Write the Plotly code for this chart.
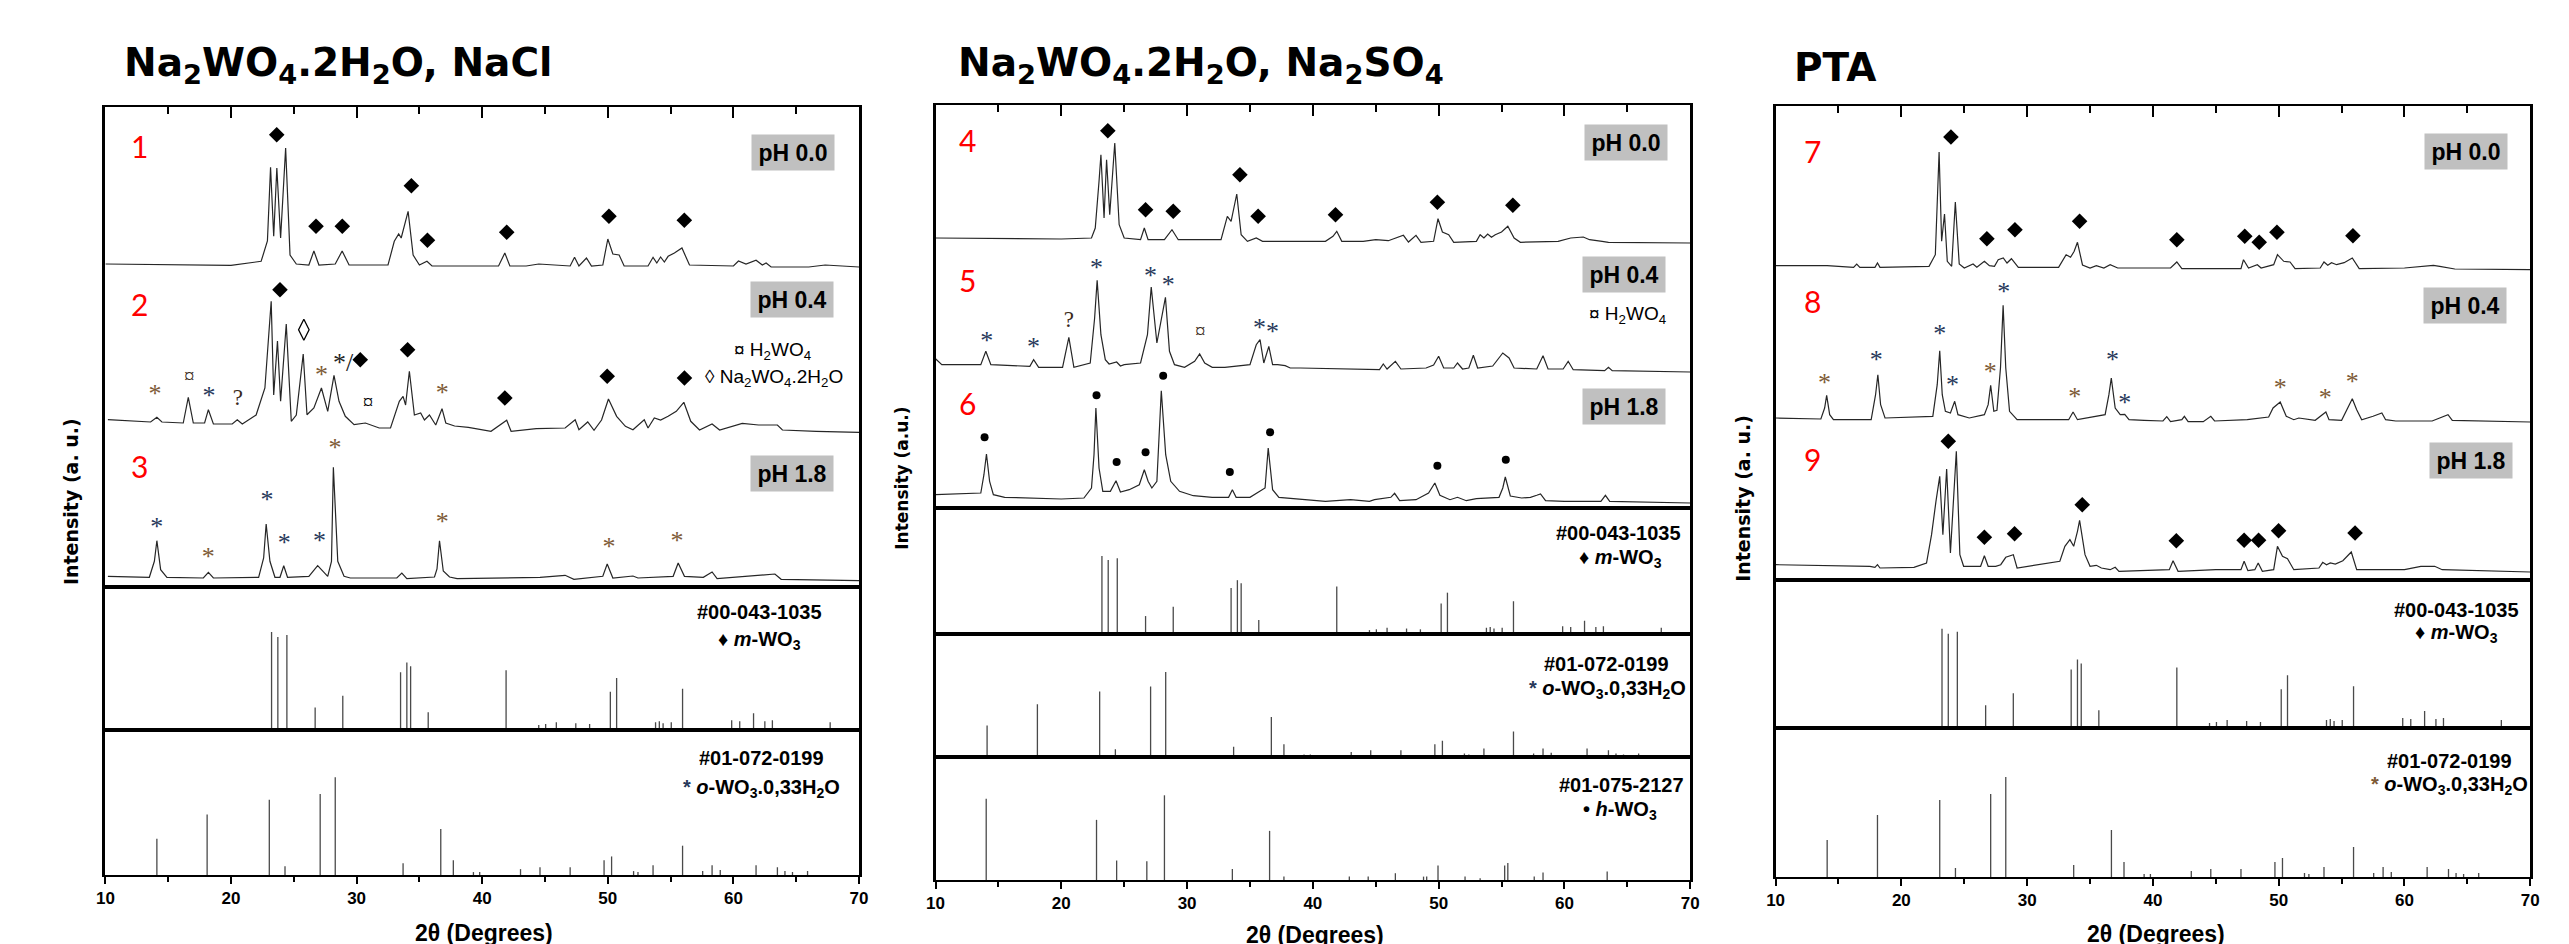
import plotly.graph_objects as go

W, H = 2569, 944

# ---------------- DATA ----------------
# XRD patterns: (2theta, intensity above the pattern's own baseline, a.u.)
nacl_ph00 = [(10.0,4),(20.0,2.7),(22.4,6.7),(22.9,27),(23.15,100.7),(23.4,31.7),(23.65,100),(23.95,30),(24.35,120),(24.7,13),
             (25.2,4),(26.2,3),(26.6,17),(27.0,3),(28.3,4),(28.85,17),(29.4,3),(32.5,3),(33.0,26.7),(33.35,34),
             (33.55,30),(34.1,56.7),(34.5,13),(35.0,3),(35.6,6.7),(36.0,2),(41.3,2),(41.8,15),(42.2,2),(43.5,2),
             (44.5,4),(45.5,3),(46.5,2),(47.0,2),(47.35,10.7),(47.7,2),(48.3,10),(48.7,2),(49.6,3),(50.0,29),
             (50.4,14),(50.9,13),(51.3,2),(53.2,2),(53.6,10.7),(53.9,5),(54.2,11),(54.5,6),(54.8,11.7),(55.3,15),
             (55.9,20),(56.5,3),(60.0,2),(60.4,7),(61.0,4),(61.8,7.7),(62.3,3),(62.6,5),(63.0,1),(66.0,1),(67.3,3),(70.0,1)]
nacl_ph04 = [(10.2,13.3),(13.6,11),(14.1,15.7),(14.5,11),(16.2,10),(16.6,35.7),(17.0,10),(17.9,10),(18.2,23.3),(18.6,9),
             (20.1,9),(20.5,13.3),(20.9,9),(22.0,18),(22.7,45),(23.2,131.7),(23.4,38),(23.7,92),(23.95,31.7),(24.4,109),
             (24.8,11.7),(25.2,18),(25.75,79),(26.05,18.3),(26.6,25),(27.2,45),(27.7,21.7),(28.2,57.7),(28.6,31.7),(29.1,16.7),
             (29.8,8.3),(30.7,10),(31.8,5),(32.7,5),(33.4,31.7),(33.7,36.7),(33.9,28),(34.2,61.7),(34.6,18),(35.1,20),
             (35.4,13),(35.8,18),(36.3,8),(36.8,24.3),(37.1,10),(37.8,7),(38.9,5.7),(40.7,1.7),(41.95,12.7),(42.3,1.7),
             (44.3,4.3),(46.6,5),(47.4,13.3),(47.7,3.3),(48.4,11),(48.9,2.7),(49.5,13),(50.05,34),(50.7,16.7),(51.4,6.7),
             (52.0,3.3),(52.9,13.3),(53.2,5),(53.7,15),(54.2,13),(54.8,16.7),(55.45,21.7),(56.05,30.7),(56.6,11.7),(57.3,3),
             (58.3,9),(58.9,3),(60.7,9.7),(62.0,8),(63.5,8),(63.9,3),(66.6,1.7),(70.0,0.7)]
nacl_ph18 = [(10.2,4.7),(13.5,3.7),(13.9,19.7),(14.1,40.3),(14.4,11.3),(14.9,3.7),(17.8,3),(18.2,8.7),(18.6,3),(22.2,3.7),
             (22.6,23),(22.8,57),(23.1,19.7),(23.5,3.7),(23.9,3.7),(24.2,15.3),(24.5,3.7),(26.2,4.7),(26.9,15.3),(27.3,9.7),
             (27.7,4.7),(28.0,19.7),(28.15,113.7),(28.5,19.7),(29.0,4.7),(29.5,3),(33.2,3),(33.6,8),(34.0,2.3),(36.2,4),
             (36.4,12),(36.6,40.3),(36.9,10),(37.4,4),(38.0,2.3),(44.6,3.7),(46.6,5.7),(47.3,1.7),(49.6,4.7),(49.95,17),
             (50.4,3),(52.0,5),(52.4,3),(55.2,4.7),(55.6,18),(56.1,4.7),(57.6,3.7),(58.3,9),(58.7,2.3),(63.3,7),(63.8,1.7),(70.0,0.3)]

so4_ph00 = [(10,6),(20,5),(22.4,6),(22.7,16),(23.0,62.7),(23.15,89.3),(23.4,26),(23.6,84.3),(23.85,29.3),(24.25,101),
            (24.6,19.3),(25.0,6),(26.3,4.3),(26.6,16),(26.9,4.3),(28.2,4.3),(28.8,14.3),(29.3,4.3),(32.7,4.3),(33.2,27.7),
            (33.5,22.7),(33.95,50),(34.3,9.3),(34.8,2.7),(35.5,6),(36.0,2.7),(41.0,2.7),(41.6,7.7),(41.9,12.7),(42.3,2.7),
            (44.0,2.7),(45.0,4.3),(46.0,3.3),(47.2,8.7),(47.6,2),(48.2,8.7),(48.6,1.7),(49.6,2.7),(49.95,25.3),(50.3,12),
            (50.8,9.3),(51.2,1.7),(53.0,2.7),(53.3,9.3),(53.6,6),(53.9,10),(54.2,6.7),(54.5,9.3),(55.0,12),(55.5,17.7),
            (56.0,6),(56.5,1.7),(59.5,2.7),(60.5,6),(61.5,7),(62.0,4.3),(63.0,2.7),(63.5,1.7),(70,1)]
so4_ph04 = [(10,14.3),(10.5,8.3),(13.6,8.3),(14.0,21.7),(14.4,8.3),(17.5,6.7),(17.8,13.3),(18.2,5.7),(20.1,5.7),(20.6,35.7),
            (21.0,5.7),(22.3,10),(22.65,55),(22.85,92.7),(23.15,38.3),(23.5,13.3),(23.8,9),(24.4,11),(24.7,7),(25.0,8.3),
            (26.3,10),(26.85,38.3),(27.15,86),(27.6,30),(28.28,75.7),(28.6,21.7),(29.0,8.3),(29.8,5.7),(30.6,11.7),(31.0,19),
            (31.4,10),(32.0,5.7),(33.0,5.7),(35.0,8.3),(35.5,28.3),(35.8,33.3),(36.1,10),(36.5,26.7),(36.8,8.3),(37.2,8.3),
            (37.8,7.3),(38.2,5),(39.0,5),(44.0,3.3),(45.3,3.3),(45.6,9),(45.9,4),(46.56,11.7),(47.0,4),(49.0,5),
            (49.6,8),(50.0,16.7),(50.4,5),(51.2,5),(51.5,10),(51.9,4),(52.4,5),(52.76,17.7),(53.1,5),(54.3,7),
            (54.8,15),(55.1,20),(55.6,15),(56.0,5),(57.8,4),(58.3,17.3),(58.7,4),(59.9,4),(60.3,11.7),(60.7,3.3),
            (63.2,2.3),(63.5,5.7),(63.8,2.3),(70,1)]
so4_ph18 = [(10,9.3),(13.6,11),(13.85,29.3),(14.05,50),(14.3,22.7),(14.6,9.3),(15.5,6.7),(20,5),(21.8,6),(22.4,16),
            (22.6,49.3),(22.75,96),(23.0,36),(23.3,12.7),(23.9,12.7),(24.35,23.3),(24.7,12),(25.4,14.3),(26.2,19.3),(26.6,34.3),
            (26.9,22.7),(27.2,16),(27.6,22.7),(27.95,113.3),(28.3,49.3),(28.7,22.7),(29.4,12.7),(30.5,8.3),(32.0,6.7),(33.3,6.7),
            (33.6,14.3),(33.9,6.7),(35.0,6.7),(36.2,16),(36.45,56),(36.8,14.3),(37.3,6.7),(40.0,4),(41.0,2.7),(43.0,4.3),
            (44.5,2.7),(44.9,4.3),(46.2,6.7),(46.5,10.7),(46.9,3.3),(48.2,4.3),(49.2,11),(49.7,21),(50.1,8.7),(50.9,4.3),
            (51.5,6.7),(52.2,3.3),(53.0,5.3),(54.8,6.7),(55.1,16),(55.3,27),(55.7,8),(56.6,6),(57.3,6.7),(57.8,8.7),
            (58.1,10),(58.5,3.3),(60,2.7),(62.9,2.7),(63.26,8.7),(63.6,2.7),(70,1)]

pta_ph00 = [(10,4.3),(14.1,4.3),(16.2,2.7),(16.45,6),(16.7,2.7),(17.9,2.7),(18.1,7),(18.3,2.7),(22.2,3.7),(22.7,15.3),
            (23.0,118),(23.2,28.7),(23.43,56),(23.65,8.7),(24.0,3.7),(24.29,68),(24.6,6),(25.0,2),(25.7,6),(26.0,2.7),
            (26.6,8.7),(27.0,4.3),(27.4,3.7),(27.7,10.3),(28.1,12),(28.4,7),(28.75,11.3),(29.3,2.7),(32.5,2.7),(33.1,15.3),
            (33.45,12.7),(33.74,18.7),(34.0,27.7),(34.4,5),(35.0,2),(35.5,4.3),(36.1,2),(36.6,5.3),(37.2,2),(41.4,2),
            (41.9,8),(42.3,1.3),(47.0,1.3),(47.2,10.3),(47.6,2),(48.3,5.3),(48.6,2),(49.6,5.3),(49.9,15.3),(50.4,8.7),
            (50.9,8),(51.3,1.3),(53.3,2),(53.6,8),(53.9,4.7),(54.2,7.3),(54.6,5.3),(55.2,7.3),(55.85,12),(56.4,1.3),
            (60,2),(61.5,3.5),(62.3,4.7),(62.8,3.7),(64,1),(70,0.3)]
pta_ph04 = [(10,5),(13.6,4),(13.9,15),(14.06,27.7),(14.3,8.3),(14.6,3.3),(17.6,3.3),(17.95,28.3),(18.13,48.3),(18.35,18.3),
            (18.7,5),(22.5,6.7),(22.85,38.3),(23.05,72.3),(23.25,28.3),(23.5,11.7),(23.9,10),(24.24,21.7),(24.5,8.3),(25.4,5),
            (26.6,8.3),(26.9,18.3),(27.1,37.7),(27.35,11.7),(27.6,12.7),(27.88,55),(28.09,117.7),(28.3,55),(28.6,11.7),(29.2,3.3),
            (33.3,3.3),(33.65,11),(34.0,3.3),(36.2,8.3),(36.5,28.3),(36.69,45),(37.0,15),(37.4,8.3),(37.76,8.7),(38.1,3.3),
            (39.3,2.7),(40.8,2),(41.1,6.3),(41.4,1.3),(42.3,3.3),(42.5,6.7),(42.8,1.3),(44.0,1.3),(44.6,6.7),(44.9,2),
            (47.5,3.3),(49.2,6),(49.55,15),(50.12,21),(50.6,6.7),(51.2,3.3),(51.6,5),(52.9,2.7),(53.75,11),(54.0,3.3),
            (55.0,2.7),(55.5,15),(55.85,24.3),(56.2,13.3),(56.6,3.3),(57.5,6.7),(58.2,10),(58.5,3.3),(59.3,2),(62.2,2),
            (63.46,8.3),(63.8,2.7),(70,1)]
pta_ph18 = [(10,8.3),(17.5,6.7),(17.9,5.7),(18.1,8.3),(18.3,5),(21.0,5.7),(22.0,10),(22.4,38.3),(22.75,71.7),(23.05,96.7),
            (23.3,38.3),(23.6,104),(23.9,20),(24.37,121.7),(24.65,18.3),(24.95,6.7),(26.3,6.7),(26.6,17.3),(26.9,6.7),(27.5,6.7),
            (27.9,8.3),(28.3,15.7),(28.9,18.3),(29.2,5),(32.6,11.7),(33.0,26.7),(33.4,33.3),(33.7,26.7),(34.0,41.7),(34.17,52.7),
            (34.6,18.3),(35.0,6.7),(35.5,7.7),(35.9,5),(36.6,3.3),(37.0,5.7),(37.3,1.7),(41.3,3.3),(41.6,12.3),(42.0,1.7),
            (45.0,3.3),(47.0,3.3),(47.25,11.7),(47.55,2.3),(48.1,3.3),(48.37,10),(48.7,1.7),(49.6,3.3),(49.9,26.7),(50.3,16.7),
            (50.7,14.3),(51.2,3.3),(53.2,5),(53.5,10.7),(53.8,8.3),(54.1,10),(54.5,9),(55.1,12.3),(55.77,21),(56.2,3.3),
            (60,3.3),(61.3,6.7),(62.4,6.7),(63.0,3.3),(70,1)]

# Reference cards: (2theta, relative intensity)
m_wo3 = [(23.23,100),(23.73,95),(24.45,97),(26.7,23),(28.9,35),(33.5,59),(34.0,69),(34.3,65),(35.7,18),(41.9,61),
         (43.2,2),(44.5,5),(45.05,6),(45.9,8),(47.45,7),(48.55,6),(50.2,39),(50.7,53),(53.8,8),(54.1,9),(54.4,7),
         (55.05,8),(55.95,42),(59.86,10),(60.5,9),(61.6,17),(62.5,9),(63.1,10),(67.7,8)]
o_wo3 = [(14.1,37),(18.1,62),(23.05,77),(24.3,9),(27.1,83),(28.3,100),(33.7,12),(36.7,47),(37.7,15),(39.3,3),(39.8,3),
         (43.05,6),(44.6,8),(47.0,8),(49.7,15),(50.3,19),(52.05,4),(52.4,3),(53.6,10),(55.95,30),(57.55,4),(58.3,10),
         (58.95,5),(61.8,10),(63.5,8),(64.1,4),(64.7,3),(65.9,4)]
h_wo3 = [(14.03,96),(22.8,71),(24.4,23),(26.8,22),(28.2,100),(33.6,13),(36.56,58),(37.7,4),(42.9,4),(44.4,4),(46.56,8),
         (48.8,4),(49.05,4),(49.95,17),(52.1,4),(53.3,2),(55.25,17),(55.5,20),(57.6,4),(58.3,9),(63.4,10)]

# Phase markers: (2theta, height above the pattern baseline)
nacl_ph00_mwo3 = [(23.64,133.3),(26.77,41.7),(28.86,41.7),(34.36,82.3),(35.64,27.7),(41.95,35.7),(50.09,51.7),(56.09,47.7)]
nacl_ph04_mwo3 = [(23.9,143.3),(30.29,73.3),(34.06,83.3),(41.8,35),(49.95,56.7),(56.1,55)]
nacl_ph04_na2wo4 = [(25.8,103.3)]
nacl_ph04_owo3 = [(13.95,42.7),(18.25,41),(27.2,61.7),(36.82,43.3)]
nacl_ph04_mixed = [(28.92,73.3)]
nacl_ph04_h2wo4 = [(16.67,55.7),(30.9,29)]
nacl_ph04_unknown = [(20.54,33.3)]
nacl_ph18_owo3 = [(14.09,58),(18.18,28),(22.86,84.7),(24.23,41.3),(27.05,43.7),(28.27,137),(36.82,63),(50.09,38),(55.5,43.7)]

so4_ph00_mwo3 = [(23.7,113.3),(26.7,34.3),(28.9,32.7),(34.2,69.3),(35.65,27.7),(41.8,29.3),(49.9,41.7),(55.9,38.7)]
so4_ph04_owo3 = [(14.07,35.7),(17.78,30),(22.8,109),(27.1,101),(28.5,91.7),(35.75,49),(36.8,45)]
so4_ph04_h2wo4 = [(31.04,40)]
so4_ph04_unknown = [(20.6,51.7)]
so4_ph18_hwo3 = [(13.9,66.7),(22.8,108.7),(24.4,42),(26.7,51.7),(28.1,128.3),(33.4,32),(36.6,71.7),(49.9,38.3),(55.34,44.3)]

pta_ph00_mwo3 = [(23.94,133),(26.8,31.3),(29.03,40.3),(34.17,48.7),(41.9,30.3),(47.3,33.7),(48.45,27.7),(49.86,37.7),(55.9,34.3)]
pta_ph04_owo3 = [(13.89,44),(18.0,66.3),(23.05,92.3),(24.07,41.7),(27.07,55),(28.14,134.3),(33.78,30),(36.78,66.3),
                 (37.76,24),(50.12,38.3),(53.71,29),(55.85,44.3)]
pta_ph18_mwo3 = [(23.73,131.7),(26.6,35.7),(29.0,39.3),(34.38,68.3),(41.86,32.3),(47.25,32.7),(48.4,32.7),(49.99,42.3),(56.07,40)]

x_ticks = [10, 20, 30, 40, 50, 60, 70]
ph_labels = ["pH 0.0", "pH 0.4", "pH 1.8"]
titles = ["Na<sub>2</sub>WO<sub>4</sub>.2H<sub>2</sub>O, NaCl",
          "Na<sub>2</sub>WO<sub>4</sub>.2H<sub>2</sub>O, Na<sub>2</sub>SO<sub>4</sub>", "PTA"]
sample_numbers = [["1", "2", "3"], ["4", "5", "6"], ["7", "8", "9"]]
card_ids = {"m": "#00-043-1035", "o": "#01-072-0199", "h": "#01-075-2127"}

# ---------------- STYLE / LAYOUT ----------------
NAVY = "#27385a"
BROWN = "#7d5a36"
LINE = "#262626"
STICK = "#4a4a4a"
BOLD = "Liberation Sans"
fig = go.Figure()
axes = {}
anns = []
count = [0]
minor_vals = [(a + b) / 2 for a, b in zip(x_ticks, x_ticks[1:])]


def new_axes(x0, x1, top, bottom, ymax, kind):
    count[0] += 1
    n = count[0]
    xr = "x" if n == 1 else f"x{n}"
    yr = "y" if n == 1 else f"y{n}"
    xa = dict(domain=[x0 / W, x1 / W], range=[10, 70], anchor=yr, showline=True, mirror=True,
              linewidth=2, linecolor="black", showgrid=False, zeroline=False, fixedrange=True,
              tickvals=x_ticks, tickcolor="black")
    if kind == "top":
        xa.update(side="top", ticks="inside", ticklen=11, tickwidth=2, showticklabels=False,
                  minor=dict(tickvals=minor_vals, ticks="inside", ticklen=7, tickwidth=2, tickcolor="black"))
    elif kind == "bottom":
        xa.update(side="bottom", ticks="outside", ticklen=7, tickwidth=2, showticklabels=True,
                  tickfont=dict(family=BOLD, size=17, color="black", weight="bold"),
                  minor=dict(tickvals=minor_vals, ticks="outside", ticklen=5, tickwidth=2, tickcolor="black"))
    else:
        xa.update(ticks="", showticklabels=False)
    ya = dict(domain=[1 - bottom / H, 1 - top / H], range=[0, ymax], anchor=xr, showline=True, mirror=True,
              linewidth=3, linecolor="black", showgrid=False, zeroline=False, ticks="",
              showticklabels=False, fixedrange=True)
    axes["xaxis" if n == 1 else f"xaxis{n}"] = xa
    axes["yaxis" if n == 1 else f"yaxis{n}"] = ya
    return xr, yr


def add_pattern(data, off, xr, yr):
    fig.add_trace(go.Scatter(x=[p[0] for p in data], y=[off + p[1] for p in data], mode="lines",
                             line=dict(color=LINE, width=1.2), xaxis=xr, yaxis=yr, hoverinfo="skip"))


def add_sticks(card, xr, yr):
    xs, ys = [], []
    for t, v in card:
        xs += [t, t, None]
        ys += [0, v, None]
    fig.add_trace(go.Scatter(x=xs, y=ys, mode="lines", line=dict(color=STICK, width=1.3),
                             xaxis=xr, yaxis=yr, hoverinfo="skip"))


def add_symbols(pts, off, xr, yr, symbol="diamond", size=12, lw=0):
    fig.add_trace(go.Scatter(x=[p[0] for p in pts], y=[off + p[1] for p in pts], mode="markers",
                             marker=dict(symbol=symbol, size=size, color="black",
                                         line=dict(color="black", width=lw)),
                             xaxis=xr, yaxis=yr, hoverinfo="skip"))


def add_text(pts, off, char, xr, yr, colors, size=26, family="Liberation Serif", dy=-5):
    fig.add_trace(go.Scatter(x=[p[0] for p in pts], y=[off + p[1] + dy for p in pts], mode="text",
                             text=[char] * len(pts),
                             textfont=dict(family=family, size=size, color=colors),
                             xaxis=xr, yaxis=yr, hoverinfo="skip"))


def ann(text, x, y, size, family=BOLD, color="black", bold=True, xanchor="center", angle=0, **kw):
    anns.append(dict(text=text, x=x / W, y=1 - y / H, xref="paper", yref="paper", showarrow=False,
                     xanchor=xanchor, yanchor="middle", textangle=angle,
                     font=dict(family=family, size=size, color=color, weight="bold" if bold else "normal"), **kw))


def ph_box(text, x, y):
    ann(text, x, y, 23, bgcolor="#c0c0c0", width=82, height=35, borderpad=0)


# ---------- Panel 1 ----------
x0, x1 = 89, 848
xa, ya = new_axes(x0, x1, 99, 579, 480, "top")
add_pattern(nacl_ph00, 319, xa, ya)
add_pattern(nacl_ph04, 154, xa, ya)
add_pattern(nacl_ph18, 6, xa, ya)
add_symbols(nacl_ph00_mwo3, 319, xa, ya)
add_symbols(nacl_ph04_mwo3, 154, xa, ya)
add_symbols(nacl_ph04_na2wo4, 154, xa, ya, symbol="diamond-tall-open", size=15, lw=1.3)
add_text(nacl_ph04_owo3, 154, "*", xa, ya, [BROWN, NAVY, BROWN, BROWN])
add_text(nacl_ph04_mixed, 154, "*/", xa, ya, ["#222222"])
add_text(nacl_ph04_h2wo4, 154, "¤", xa, ya, ["#3a2a1a"], size=21, dy=0)
add_text(nacl_ph04_unknown, 154, "?", xa, ya, ["#3a2a1a"], size=23, dy=0)
add_text(nacl_ph18_owo3, 6, "*", xa, ya, [NAVY, BROWN, NAVY, NAVY, NAVY, BROWN, BROWN, BROWN, BROWN])
xb, yb = new_axes(x0, x1, 579, 722, 100 * 143 / 98, "mid")
add_sticks(m_wo3, xb, yb)
xc, yc = new_axes(x0, x1, 722, 867, 100 * 145 / 97.7, "bottom")
add_sticks(o_wo3, xc, yc)

ann(titles[0], 106, 57, 39, family="DejaVu Sans", xanchor="left")
ann("Intensity (a. u.)", 54.5, 494, 19, family="DejaVu Sans", angle=-90)
ann("2θ (Degrees)", 470, 925, 23)
for s, yy in zip(sample_numbers[0], [138, 296, 458]):
    ann(s, 123, yy, 30, family="Lato", color="#ff0000", bold=False)
for t, (xx, yy) in zip(ph_labels, [(781, 144.5), (780, 291.5), (780, 465)]):
    ph_box(t, xx, yy)
ann("¤ H<sub>2</sub>WO<sub>4</sub>", 761, 343, 19, bold=False)
ann("◊ Na<sub>2</sub>WO<sub>4</sub>.2H<sub>2</sub>O", 762, 370, 19, bold=False)
ann(card_ids["m"], 748, 604, 20)
ann("♦ <i>m</i>-WO<sub>3</sub>", 748, 632, 20)
ann(card_ids["o"], 750, 750, 20)
ann(f"<span style='color:{NAVY}'>*</span> <i>o</i>-WO<sub>3</sub>.0,33H<sub>2</sub>O", 750, 780, 20)

# ---------- Panel 2 ----------
x0, x1 = 925, 1685
xa, ya = new_axes(x0, x1, 97, 500, 403, "top")
add_pattern(so4_ph00, 264, xa, ya)
add_pattern(so4_ph04, 135, xa, ya)
add_pattern(so4_ph18, 4, xa, ya)
add_symbols(so4_ph00_mwo3, 264, xa, ya)
add_text(so4_ph04_owo3, 135, "*", xa, ya, [NAVY] * len(so4_ph04_owo3))
add_text(so4_ph04_h2wo4, 135, "¤", xa, ya, ["#3a2a1a"], size=21, dy=0)
add_text(so4_ph04_unknown, 135, "?", xa, ya, ["#3a2a1a"], size=23, dy=0)
add_symbols(so4_ph18_hwo3, 4, xa, ya, symbol="circle", size=8)
xb, yb = new_axes(x0, x1, 500, 626, 100 * 126 / 78, "mid")
add_sticks(m_wo3, xb, yb)
xc, yc = new_axes(x0, x1, 626, 749, 100 * 123 / 85, "mid")
add_sticks(o_wo3, xc, yc)
xd, yd = new_axes(x0, x1, 749, 872, 100 * 123 / 84.7, "bottom")
add_sticks(h_wo3, xd, yd)

ann(titles[1], 946, 57, 39, family="DejaVu Sans", xanchor="left")
ann("Intensity (a.u.)", 891, 470, 17, family="DejaVu Sans", angle=-90)
ann("2θ (Degrees)", 1307, 927, 23)
for s, yy in zip(sample_numbers[1], [132, 272, 395]):
    ann(s, 957.5, yy, 30, family="Lato", color="#ff0000", bold=False)
for t, (xx, yy) in zip(ph_labels, [(1620, 134.5), (1618, 266.5), (1618, 398.5)]):
    ph_box(t, xx, yy)
ann("¤ H<sub>2</sub>WO<sub>4</sub>", 1622, 307, 19, bold=False)
ann(card_ids["m"], 1613, 525, 20)
ann("♦ <i>m</i>-WO<sub>3</sub>", 1615, 550, 20)
ann(card_ids["o"], 1601, 656, 20)
ann(f"<span style='color:{NAVY}'>*</span> <i>o</i>-WO<sub>3</sub>.0,33H<sub>2</sub>O", 1602, 681, 20)
ann(card_ids["h"], 1616, 777, 20)
ann("• <i>h</i>-WO<sub>3</sub>", 1614, 802, 20)

# ---------- Panel 3 ----------
x0, x1 = 1771, 2531
xa, ya = new_axes(x0, x1, 98, 572, 474, "top")
add_pattern(pta_ph00, 310, xa, ya)
add_pattern(pta_ph04, 157, xa, ya)
add_pattern(pta_ph18, 7, xa, ya)
add_symbols(pta_ph00_mwo3, 310, xa, ya)
add_text(pta_ph04_owo3, 157, "*", xa, ya,
         [BROWN, NAVY, NAVY, NAVY, BROWN, NAVY, BROWN, NAVY, NAVY, BROWN, BROWN, BROWN])
add_symbols(pta_ph18_mwo3, 7, xa, ya)
xb, yb = new_axes(x0, x1, 572, 720, 100 * 148 / 99.3, "mid")
add_sticks(m_wo3, xb, yb)
xc, yc = new_axes(x0, x1, 720, 869, 100 * 149 / 100, "bottom")
add_sticks(o_wo3, xc, yc)

ann(titles[2], 1788, 59, 39, family="DejaVu Sans", xanchor="left")
ann("Intensity (a. u.)", 1738, 490, 19, family="DejaVu Sans", angle=-90)
ann("2θ (Degrees)", 2154, 926, 23)
for s, yy in zip(sample_numbers[2], [143, 293, 451]):
    ann(s, 1808, yy, 30, family="Lato", color="#ff0000", bold=False)
for t, (xx, yy) in zip(ph_labels, [(2466, 143.5), (2465, 297.5), (2471, 452)]):
    ph_box(t, xx, yy)
ann(card_ids["m"], 2457, 602, 20)
ann("♦ <i>m</i>-WO<sub>3</sub>", 2457, 625, 20)
ann(card_ids["o"], 2450, 753, 20)
ann(f"<span style='color:{BROWN}'>*</span> <i>o</i>-WO<sub>3</sub>.0,33H<sub>2</sub>O", 2450, 777, 20)

fig.update_layout(width=W, height=H, margin=dict(l=0, r=0, t=0, b=0), autosize=False,
                  paper_bgcolor="white", plot_bgcolor="white", showlegend=False,
                  annotations=anns, **axes)
fig.write_html("out.html")
